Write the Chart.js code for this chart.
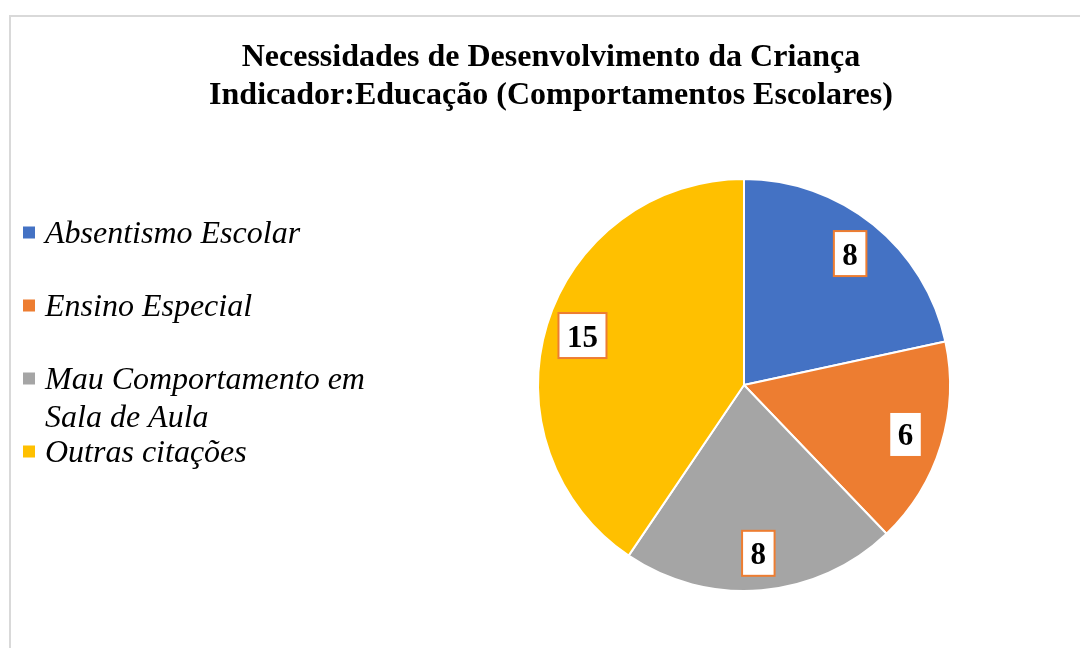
<!DOCTYPE html>
<html>
<head>
<meta charset="utf-8">
<script src="https://cdn.jsdelivr.net/npm/chart.js@4/dist/chart.umd.min.js"></script>
<style>
  html, body { margin: 0; padding: 0; background: #fff; overflow: hidden; }
  #wrap { position: relative; width: 1080px; height: 648px; }
  #frame { position: absolute; left: 9px; top: 15px; width: 1100px; height: 700px; border: 2px solid #d9d9d9; box-sizing: border-box; }
  canvas { position: absolute; left: 0; top: 0; }
</style>
</head>
<body>
<div id="wrap">
  <div id="frame"></div>
  <canvas id="pieChart" width="1080" height="648"></canvas>
</div>
<script>
// dados do gráfico
const titleLines = ['Necessidades de Desenvolvimento da Criança', 'Indicador:Educação (Comportamentos Escolares)'];
const categories = ['Absentismo Escolar', 'Ensino Especial', 'Mau Comportamento em Sala de Aula', 'Outras citações'];
const counts = [8, 6, 8, 15];
const sliceColors = ['#4472C4', '#ED7D31', '#A5A5A5', '#FFC000'];

const SERIF = '"Liberation Serif", "Times New Roman", serif';

// título em duas linhas
const titlePlugin = {
    id: 'excelTitle',
    afterDraw(chart) {
        const ctx = chart.ctx;
        ctx.save();
        ctx.fillStyle = '#000';
        ctx.font = 'bold 32px ' + SERIF;
        ctx.textAlign = 'center';
        ctx.textBaseline = 'alphabetic';
        titleLines.forEach((line, i) => ctx.fillText(line, 551, 66 + i * 37.5));
        ctx.restore();
    }
};

// legenda à esquerda, com quebra de linha
const legendPlugin = {
    id: 'sideLegend',
    afterDraw(chart) {
        const ctx = chart.ctx;
        const meta = chart.getDatasetMeta(0);
        ctx.save();
        ctx.font = 'italic 32px ' + SERIF;
        ctx.textAlign = 'left';
        ctx.textBaseline = 'alphabetic';
        chart.data.labels.forEach((label, i) => {
            const cy = 232.5 + i * 73;
            ctx.fillStyle = meta.data[i].options.backgroundColor;
            ctx.fillRect(23, cy - 6, 12, 12);
            // quebra simples por palavras
            const lines = [];
            let cur = '';
            label.split(' ').forEach(w => {
                const test = cur ? cur + ' ' + w : w;
                if (ctx.measureText(test).width > 350 && cur) { lines.push(cur); cur = w; }
                else cur = test;
            });
            lines.push(cur);
            ctx.fillStyle = '#000';
            lines.forEach((l, j) => ctx.fillText(l, 45, cy + 10.5 + j * 38));
        });
        ctx.restore();
    }
};

// rótulos de valor em caixas brancas
const valueBoxes = {
    id: 'valueBoxes',
    afterDatasetsDraw(chart) {
        const ctx = chart.ctx;
        const meta = chart.getDatasetMeta(0);
        ctx.save();
        ctx.font = 'bold 31px ' + SERIF;
        ctx.textAlign = 'center';
        ctx.textBaseline = 'alphabetic';
        meta.data.forEach((arc, i) => {
            const p = arc.getProps(['x', 'y', 'startAngle', 'endAngle', 'outerRadius'], true);
            const mid = (p.startAngle + p.endAngle) / 2;
            const cx = p.x + Math.cos(mid) * p.outerRadius * 0.82;
            const cy = p.y + Math.sin(mid) * p.outerRadius * 0.82;
            const txt = String(chart.data.datasets[0].data[i]);
            const w = ctx.measureText(txt).width + 17;
            const h = 45;
            ctx.fillStyle = '#fff';
            ctx.fillRect(cx - w / 2, cy - h / 2, w, h);
            ctx.strokeStyle = '#ED7D31';
            ctx.lineWidth = 2;
            ctx.strokeRect(cx - w / 2, cy - h / 2, w, h);
            ctx.fillStyle = '#000';
            ctx.fillText(txt, cx, cy + 11);
        });
        ctx.restore();
    }
};

new Chart(document.getElementById('pieChart').getContext('2d'), {
    type: 'pie',
    data: {
        labels: categories,
        datasets: [{
            data: counts,
            backgroundColor: sliceColors,
            borderColor: '#fff',
            borderWidth: 2
        }]
    },
    options: {
        responsive: false,
        animation: false,
        layout: { padding: { left: 537, right: 129, top: 178, bottom: 56 } },
        plugins: {
            legend: { display: false },
            title: { display: false },
            tooltip: { enabled: false }
        }
    },
    plugins: [titlePlugin, legendPlugin, valueBoxes]
});
</script>
</body>
</html>
